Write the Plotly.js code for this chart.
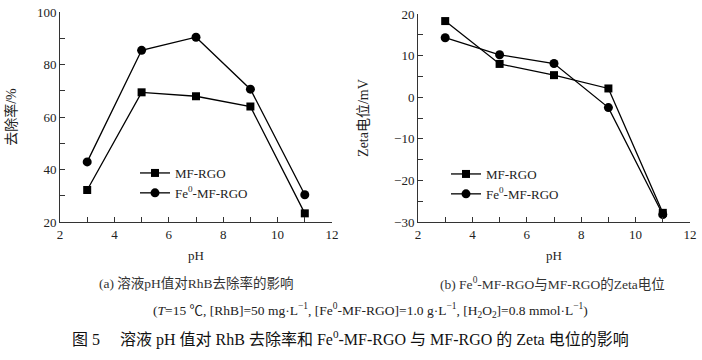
<!DOCTYPE html>
<html>
<head>
<meta charset="utf-8">
<script src="https://cdn.plot.ly/plotly-3.0.1.min.js"></script>
<style>html,body{margin:0;padding:0;background:#fff;}#chart{width:702px;height:360px;}</style>
</head>
<body>
<div id="chart"></div>
<script>
// Data
const pH = [3, 5, 7, 9, 11];
const removalMF = [32.2, 69.4, 67.9, 64.0, 23.3];
const removalFe = [42.9, 85.4, 90.4, 70.6, 30.4];
const zetaMF = [18.3, 8.0, 5.3, 2.1, -27.8];
const zetaFe = [14.3, 10.2, 8.1, -2.5, -28.2];
const nameMF = 'MF-RGO';
const nameFe = 'Fe<sup>0</sup>-MF-RGO';
const xTitle = 'pH';
const yTitleA = '去除率/%';
const yTitleB = 'Zeta电位/mV';
const captionA = '(a) 溶液pH值对RhB去除率的影响';
const captionB = '(b) Fe<sup>0</sup>-MF-RGO与MF-RGO的Zeta电位';
const conditions = '(<i>T</i>=15 ℃, [RhB]=50 mg·L<sup>−1</sup>, [Fe<sup>0</sup>-MF-RGO]=1.0 g·L<sup>−1</sup>, [H<sub>2</sub>O<sub>2</sub>]=0.8 mmol·L<sup>−1</sup>)';
const figTitle = '图 5　 溶液 pH 值对 RhB 去除率和 Fe<sup>0</sup>-MF-RGO 与 MF-RGO 的 Zeta 电位的影响';

const FONT = '"Liberation Serif", "Times New Roman", "Noto Sans CJK SC", serif';
const W = 702, H = 360;
const fx = p => p / W;
const fy = p => 1 - p / H;

const lineStyle = {color: '#000', width: 1.3};
const traces = [
  {x: pH, y: removalMF, name: nameMF, mode: 'lines+markers', xaxis: 'x', yaxis: 'y', legend: 'legend',
   line: lineStyle, marker: {symbol: 'square', size: 8, color: '#000'}},
  {x: pH, y: removalFe, name: nameFe, mode: 'lines+markers', xaxis: 'x', yaxis: 'y', legend: 'legend',
   line: lineStyle, marker: {symbol: 'circle', size: 9, color: '#000'}},
  {x: pH, y: zetaMF, name: nameMF, mode: 'lines+markers', xaxis: 'x2', yaxis: 'y2', legend: 'legend2',
   line: lineStyle, marker: {symbol: 'square', size: 8, color: '#000'}},
  {x: pH, y: zetaFe, name: nameFe, mode: 'lines+markers', xaxis: 'x2', yaxis: 'y2', legend: 'legend2',
   line: lineStyle, marker: {symbol: 'circle', size: 9, color: '#000'}}
];

const axBase = {
  showgrid: false, zeroline: false, showline: true, linecolor: '#333', linewidth: 1,
  ticks: 'inside', ticklen: 5, tickcolor: '#333', tickfont: {family: FONT, size: 13, color: '#222'},
  fixedrange: true
};
const xAx = (dom, anchor) => Object.assign({}, axBase, {
  domain: dom, anchor: anchor, range: [2, 12], dtick: 2, tick0: 2,
  minor: {dtick: 1, ticks: 'inside', ticklen: 5, tickcolor: '#333'},
  title: {text: xTitle, font: {family: FONT, size: 13, color: '#222'}, standoff: 10}
});

const layout = {
  width: W, height: H,
  margin: {l: 0, r: 0, t: 0, b: 0},
  paper_bgcolor: '#fff', plot_bgcolor: '#fff',
  font: {family: FONT, size: 13, color: '#222'},
  xaxis: xAx([fx(60), fx(332)], 'y'),
  yaxis: Object.assign({}, axBase, {
    domain: [fy(222), fy(12)], anchor: 'x', range: [20, 100], dtick: 20, tick0: 20,
    minor: {dtick: 10, ticks: 'inside', ticklen: 5, tickcolor: '#333'},
    title: {text: yTitleA, font: {family: FONT, size: 14, color: '#222'}, standoff: 17}
  }),
  xaxis2: xAx([fx(418), fx(690)], 'y2'),
  yaxis2: Object.assign({}, axBase, {
    domain: [fy(222), fy(14)], anchor: 'x2', range: [-30, 20], dtick: 10, tick0: -30,
    minor: {dtick: 5, ticks: 'inside', ticklen: 5, tickcolor: '#333'},
    title: {text: yTitleB, font: {family: FONT, size: 14, color: '#222'}, standoff: 22}
  }),
  legend: {x: fx(135), y: fy(158), xanchor: 'left', yanchor: 'top', bgcolor: 'rgba(0,0,0,0)',
    font: {family: FONT, size: 13, color: '#222'}, tracegroupgap: 0, itemwidth: 30},
  legend2: {x: fx(446), y: fy(159), xanchor: 'left', yanchor: 'top', bgcolor: 'rgba(0,0,0,0)',
    font: {family: FONT, size: 13, color: '#222'}, tracegroupgap: 0, itemwidth: 30},
  annotations: [
    {text: captionA, x: fx(196), y: fy(283), xref: 'paper', yref: 'paper', showarrow: false,
     xanchor: 'center', yanchor: 'middle', font: {family: FONT, size: 13.5, color: '#333'}},
    {text: captionB, x: fx(552), y: fy(283), xref: 'paper', yref: 'paper', showarrow: false,
     xanchor: 'center', yanchor: 'middle', font: {family: FONT, size: 13.5, color: '#333'}},
    {text: conditions, x: fx(370), y: fy(310), xref: 'paper', yref: 'paper', showarrow: false,
     xanchor: 'center', yanchor: 'middle', font: {family: FONT, size: 13.5, color: '#222'}},
    {text: figTitle, x: fx(350), y: fy(338), xref: 'paper', yref: 'paper', showarrow: false,
     xanchor: 'center', yanchor: 'middle', font: {family: FONT, size: 16, color: '#111'}}
  ],
  showlegend: true
};

Plotly.newPlot('chart', traces, layout, {staticPlot: true, displayModeBar: false});
</script>
</body>
</html>
